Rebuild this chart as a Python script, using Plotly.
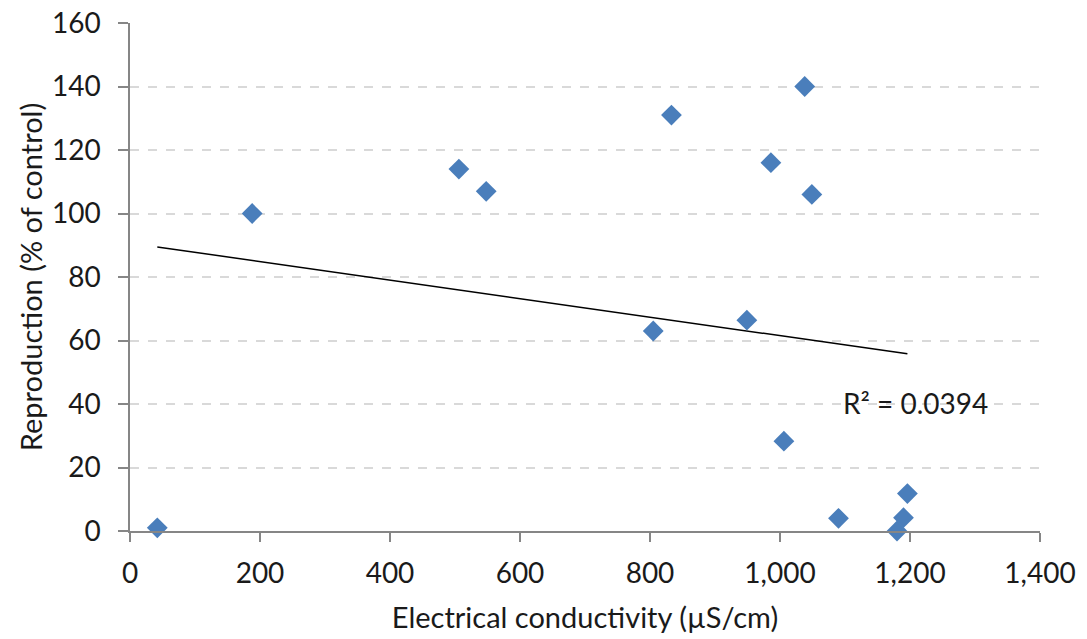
import numpy as np
import plotly.graph_objects as go

# Electrical conductivity (µS/cm) vs reproduction (% of control)
conductivity = [42, 188, 506, 548, 833, 1038, 986, 1049, 805, 949, 1006, 1090, 1196, 1190, 1180]
reproduction = [1, 100, 114, 107, 131, 140, 116, 106, 63, 66.4, 28.3, 4, 11.8, 4.2, 0]

x_ticks = [0, 200, 400, 600, 800, 1000, 1200, 1400]
x_tick_text = ["0", "200", "400", "600", "800", "1,000", "1,200", "1,400"]
y_ticks = [0, 20, 40, 60, 80, 100, 120, 140, 160]

# Least-squares linear trend over the observed conductivity range
slope, intercept = np.polyfit(conductivity, reproduction, 1)
trend_x = [min(conductivity), max(conductivity)]
trend_y = [slope * v + intercept for v in trend_x]

font_family = "Lato, 'Open Sans', sans-serif"

fig = go.Figure()
fig.add_trace(go.Scatter(
    x=trend_x, y=trend_y, mode="lines",
    line=dict(color="black", width=1.5), hoverinfo="skip", showlegend=False,
))
fig.add_trace(go.Scatter(
    x=conductivity, y=reproduction, mode="markers",
    marker=dict(symbol="diamond", size=16, color="#4a7ebb", line=dict(width=0)),
    showlegend=False, cliponaxis=False,
))

fig.add_annotation(
    x=1323, y=40.2, xref="x", yref="y", text="R² = 0.0394", showarrow=False,
    xanchor="right", yanchor="middle",
    font=dict(family=font_family, size=28, color="#1a1a1a"),
)

fig.update_layout(
    width=1087, height=639,
    margin=dict(l=130, r=47, t=23, b=108, autoexpand=False),
    plot_bgcolor="white", paper_bgcolor="white",
    font=dict(family=font_family, size=28, color="#1a1a1a"),
    xaxis=dict(
        range=[0, 1400], tickvals=x_ticks, ticktext=x_tick_text,
        showgrid=False, zeroline=False, automargin=False,
        showline=True, linecolor="#868686", linewidth=1.5,
        ticks="outside", ticklen=9, tickcolor="#868686", tickwidth=1.5,
        ticklabelstandoff=8,
        title=dict(text="Electrical conductivity (µS/cm)", standoff=19,
                   font=dict(size=29)),
        tickfont=dict(size=28),
    ),
    yaxis=dict(
        range=[0, 160], tickvals=y_ticks,
        showgrid=True, gridcolor="#d9d9d9", gridwidth=1.5, griddash="dash",
        zeroline=False, automargin=False,
        showline=True, linecolor="#868686", linewidth=1.5,
        ticks="outside", ticklen=10, tickcolor="#868686", tickwidth=1.5,
        ticklabelstandoff=12,
        title=dict(text="Reproduction (% of control)", standoff=1,
                   font=dict(size=29)),
        tickfont=dict(size=28),
    ),
)

fig.write_html("out.html")
